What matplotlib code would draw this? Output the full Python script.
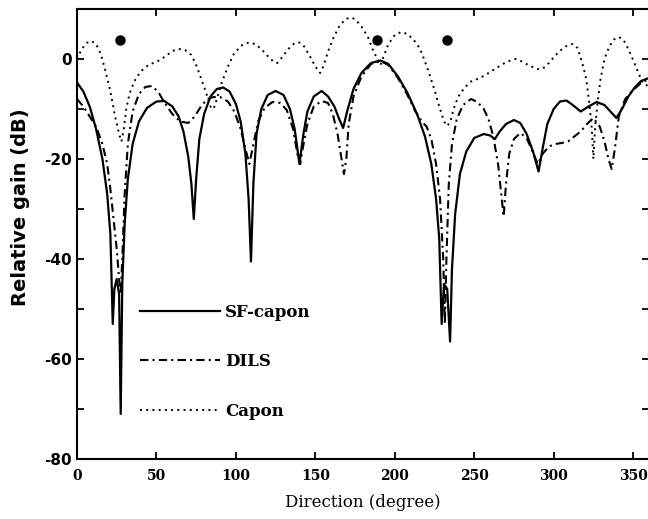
import matplotlib
matplotlib.use("Agg")
import matplotlib.pyplot as plt
from matplotlib.ticker import MultipleLocator

plt.rcParams['axes.unicode_minus'] = False

# SF-capon (solid)
sf_deg = [0, 4, 8, 12, 16, 19, 21, 22.5, 23.5, 25, 26.5, 27.5, 28.5, 30, 32, 35, 39, 44, 50, 55,
          60, 64, 67, 70, 72, 73.5, 75, 77, 80, 84, 88, 92, 96, 100, 103, 106, 108, 109.5, 111, 113,
          116, 120, 125, 130, 134, 137, 140, 142.5, 145, 149, 154, 158, 162, 165, 167.5, 170, 174, 179,
          185, 191, 196, 202, 208, 214, 219, 223, 226, 228, 229.5, 231, 233, 234.8, 236, 238, 241, 245,
          250, 256, 260, 263, 266, 270, 275, 279, 283, 287, 290.5, 293, 296, 300, 304, 308, 312, 317,
          322, 327, 332, 336, 339.5, 343, 347, 351, 355, 360]
sf_db = [-4.7, -6.5, -9.5, -14, -20, -27, -35, -53, -46, -44, -47, -71, -45, -33, -24, -17, -12.5, -9.8, -8.5, -8.4,
         -9.5, -11.5, -14.5, -19.5, -25, -32, -24, -16, -11, -7.5, -6, -5.7, -6.5, -9, -12.5, -19, -28, -40.5, -25, -15,
         -10, -7.2, -6.4, -7.2, -10, -14, -21, -15, -10.5, -7.5, -6.4, -7.5, -9.5, -12, -13.8, -10.5, -6, -2.8,
         -0.8, -0.3, -1, -3.5, -6.8, -11, -15.5, -21, -28, -36, -53, -45, -46, -56.5, -42, -31, -23, -18.5,
         -15.8, -15, -15.3, -16, -14.5, -13, -12.2, -12.8, -15, -18.5, -22.5, -18, -13, -10, -8.5, -8.3, -9.2, -10.5,
         -9.5, -8.6, -9.2, -10.6, -11.8, -10, -7.5, -5.7, -4.4, -3.8]

# DILS (dash-dot)
dils_deg = [0, 4, 8, 12, 16, 19, 21, 23, 25, 26.5, 27.5, 28.5, 30, 32, 35, 39, 43, 47, 51, 55,
            60, 65, 70, 74, 78, 82, 86, 90, 95, 99, 103, 106, 108.5, 111, 114, 118, 123, 128, 132, 136,
            139, 140.5, 142, 145, 149, 154, 158, 161, 164, 166.5, 168, 169.5, 171, 174, 179, 185, 191, 196,
            202, 208, 213, 217, 220, 223, 226, 228.5, 230.5, 231.5, 232.5, 234, 236, 239, 243, 248, 252, 256,
            259, 262, 265, 267, 268.5, 270, 272, 275, 279, 283, 287, 290, 293, 297, 301, 305, 309, 313,
            317, 321, 325, 329, 332, 334.5, 336.5, 338.5, 341, 345, 350, 355, 360]
dils_db = [-8, -9.5, -11.5, -13.5, -17, -21, -26, -32, -38, -44, -47, -40, -27, -17, -10.5, -7, -5.6, -5.4, -6.5, -8.7,
           -11, -12.5, -12.8, -11.5, -9.5, -8, -7.6, -7.6, -8.5, -10.5, -14, -18, -21, -17, -12.5, -9.8, -8.6, -8.8, -10.2, -14,
           -19.5, -21, -18, -13, -9.5, -8.4, -8.8, -11, -15, -20, -23, -20, -13, -7.5, -3.5, -1, -0.4, -1.2,
           -3.8, -7.2, -10.5, -12.5, -13.5, -16, -21, -28, -40, -53, -40, -25, -17, -12, -9.2, -8, -8.6, -10,
           -12, -15.5, -21, -27, -31.5, -25, -19, -16, -14.8, -15.8, -18.7, -21, -19, -17.5, -17, -16.8, -16.5, -15.5,
           -14.5, -13, -11.8, -13.5, -16.5, -20, -22, -18, -11.5, -8, -6.2, -4.8, -4]

# Capon (dotted)
capon_deg = [0, 3, 6, 9, 12, 15, 18, 21, 24, 26.5, 28, 29.5, 31, 33, 36, 40, 45, 51, 56, 60,
             64, 68, 72, 75, 78, 81, 84, 86, 88, 91, 95, 99, 104, 108, 112, 116, 120, 124, 126, 129,
             133, 137, 140, 143, 147, 150, 153, 155, 158, 161, 165, 169, 172, 175, 179, 183, 186, 189, 191, 193,
             196, 200, 204, 208, 212, 216, 219, 222, 225, 228, 231, 233, 235, 237, 240, 244, 248, 252, 256, 260,
             264, 268, 272, 276, 280, 284, 288, 291, 294, 297, 301, 305, 309, 312, 315, 318, 320.5, 322.5, 324, 325,
             326, 327.5, 329.5, 332, 335, 338, 341, 344, 347, 350, 353, 356, 360]
capon_db = [0, 2, 3.2, 3.6, 3, 1, -2.5, -6.5, -11.5, -15, -16.5, -14, -10, -7, -4.5, -2.5, -1.2, -0.4, 0.6, 1.6,
            2, 1.8, 0.8, -1.2, -3.8, -6.5, -9.5, -10, -8, -4.8, -1.5, 1.2, 2.8, 3.3, 3, 2, 0.6, -0.6, -0.8, 0.3,
            2, 3.2, 3.3, 2.5, 0.3, -1.5, -2.8, -1.5, 1.5, 4, 6.5, 8, 8.3, 8, 6.5, 4.5, 2, 0, -1.2, 0.5,
            3, 4.8, 5.4, 5, 3.8, 2, -0.5, -3.2, -6.2, -9.5, -12.5, -13.4, -12.5, -10, -7.5, -5.7, -4.5, -4, -3.4, -2.6,
            -1.8, -1, -0.4, 0, -0.5, -1.2, -1.8, -2.1, -1.7, -0.8, 0.7, 1.9, 2.8, 3, 2.2, -0.8, -4, -9, -14, -20,
            -14, -9, -4, 0, 2.5, 3.9, 4.4, 3.8, 2, -0.2, -2.5, -4.8, -5.5]

# source directions (filled dots)
src_deg = [27, 189, 233]
src_db = [3.7, 3.7, 3.7]

fig = plt.figure(figsize=(6.48, 5.19), dpi=100)
ax = fig.add_axes([77/648, 60/519, 572/648, 450/519])

ax.plot(sf_deg, sf_db, color='black', lw=1.6, ls='-', label='SF-capon')
ax.plot(dils_deg, dils_db, color='black', lw=1.5, ls=(0, (4, 2, 1, 2)), label='DILS')
ax.plot(capon_deg, capon_db, color='black', lw=1.4, ls=(0, (1, 2.2)), label='Capon')
ax.plot(src_deg, src_db, 'o', color='black', ms=6.5)

ax.set_xlim(0, 360)
ax.set_ylim(-80, 10)
ax.xaxis.set_major_locator(MultipleLocator(50))
ax.yaxis.set_major_locator(MultipleLocator(20))
ax.yaxis.set_minor_locator(MultipleLocator(10))
ax.tick_params(which='both', direction='in', top=True, right=True, width=1.3, length=5)
ax.tick_params(axis='x', pad=7)
ax.tick_params(axis='y', pad=4)
for s in ax.spines.values():
	s.set_linewidth(1.5)

for lab in ax.get_xticklabels():
	lab.set_family('DejaVu Serif')
	lab.set_weight('bold')
	lab.set_fontsize(10)
for lab in ax.get_yticklabels():
	lab.set_family('DejaVu Sans')
	lab.set_weight('bold')
	lab.set_fontsize(11)

ax.set_xlabel('Direction (degree)', family='DejaVu Serif', fontsize=12, labelpad=8)
fig.text(21/648, 1 - 207/519, 'Relative gain (dB)', rotation=90, family='DejaVu Sans',
	weight='bold', fontsize=14, ha='center', va='center')

leg = ax.legend(loc='upper left', bbox_to_anchor=(0.11, 0.345), frameon=False,
	handlelength=4.8, handletextpad=0.3, labelspacing=1.95, borderpad=0, borderaxespad=0,
	prop={'family': 'DejaVu Serif', 'weight': 'bold', 'size': 12})

fig.savefig('out.png', dpi=100)
